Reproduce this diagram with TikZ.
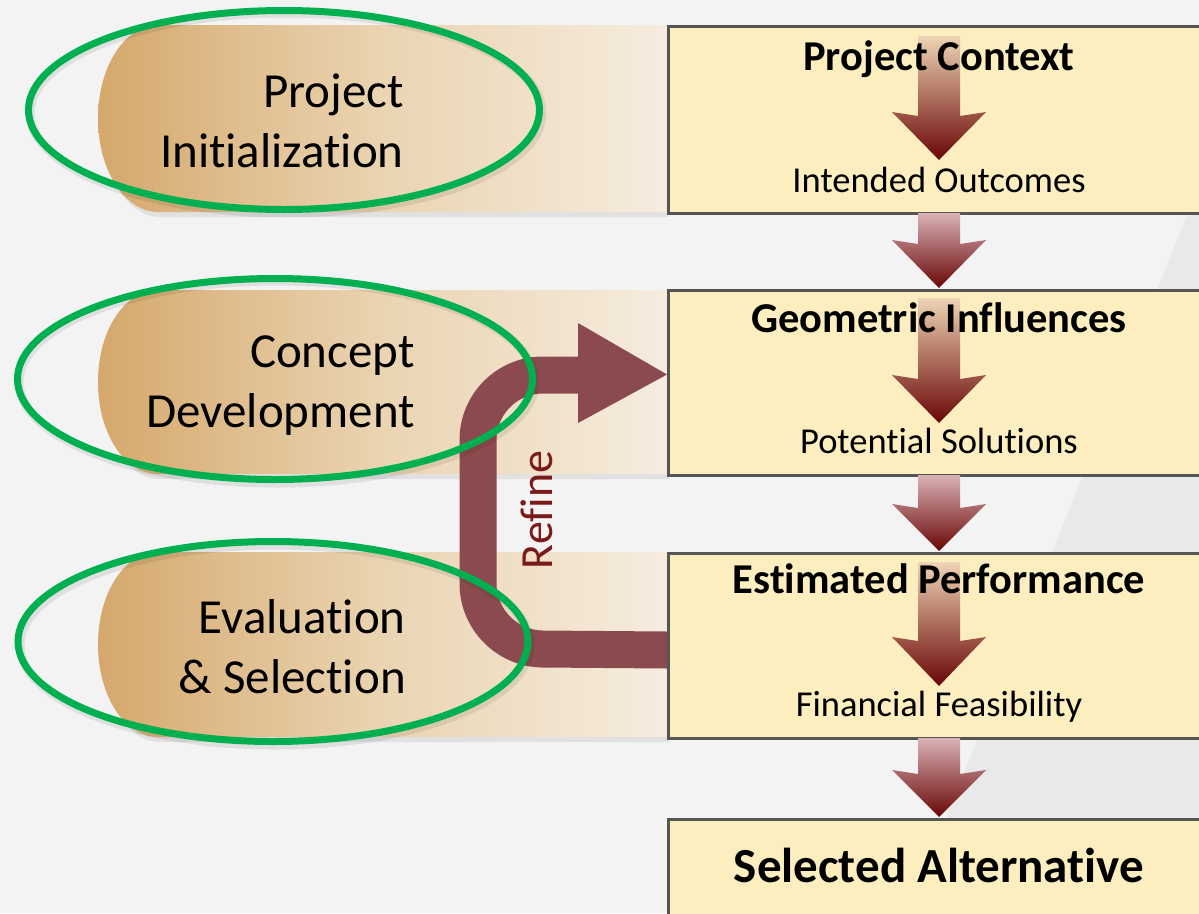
\documentclass[tikz,border=0pt]{standalone}
\usepackage{fontspec}
\setmainfont{Carlito}[Ligatures=NoCommon]
\usetikzlibrary{calc,shapes.geometric}
\definecolor{bgcol}{RGB}{243,243,243}
\definecolor{bgdark}{RGB}{233,233,233}
\definecolor{boxfill}{RGB}{252,238,190}
\definecolor{boxline}{RGB}{85,85,85}
\definecolor{bandleft}{RGB}{213,168,108}
\definecolor{bandmid}{RGB}{234,212,178}
\definecolor{bandright}{RGB}{246,236,222}
\definecolor{ringgreen}{RGB}{0,176,80}
\definecolor{refinecol}{RGB}{139,75,78}
\definecolor{refinetxt}{RGB}{122,26,26}
\definecolor{arrtopin}{RGB}{238,212,180}
\definecolor{arrtopout}{RGB}{218,178,182}
\definecolor{arrbot}{RGB}{105,6,6}
\newcommand\myfatarrow[5]{%
  \shade[top color=#5, bottom color=arrbot]
    (#1-21,#2) -- (#1+21,#2) -- (#1+21,#3+4) -- (#1+47,#3) -- (#1,#4)
    -- (#1-47,#3) -- (#1-21,#3+4) -- cycle;}
\newcommand\myband[2]{%
  \fill[black,opacity=0.07] (160,#1+3) -- (669,#1+3) -- (669,#2+5) -- (160,#2+5)
    .. controls (127,#2+5) and (101,{(#1+#2)/2+55}) .. (101,{(#1+#2)/2+4})
    .. controls (101,{(#1+#2)/2-48}) and (127,#1+3) .. (160,#1+3) -- cycle;
  \shade[left color=bandleft, right color=bandright, middle color=bandmid]
    (158,#1) -- (667,#1) -- (667,#2) -- (158,#2)
    .. controls (125,#2) and (98,{(#1+#2)/2+52}) .. (98,{(#1+#2)/2})
    .. controls (98,{(#1+#2)/2-52}) and (125,#1) .. (158,#1) -- cycle;}
\tikzset{
  box/.style={draw=boxline, line width=3pt, fill=boxfill, minimum width=560,
    minimum height=#1, inner sep=0pt, anchor=north west},
  phase/.style={align=right, anchor=east, inner sep=0pt, text height=32pt,
    text depth=10pt, font=\fontsize{49}{60}\selectfont},
  title/.style={anchor=base, inner sep=0pt, font=\fontsize{42.5}{48}\bfseries\selectfont},
  sub/.style={anchor=base, inner sep=0pt, font=\fontsize{36.5}{42}\selectfont},
  ring/.style={ellipse, draw=ringgreen, line width=7pt, inner sep=0pt},
  ringshadow/.style={draw=black, opacity=0.08, line width=9pt},
  refinearrow/.style={draw=refinecol, line width=37pt, rounded corners=65pt},
}
\begin{document}
\begin{tikzpicture}[x=1pt,y=-1pt]
\useasboundingbox (0,0) rectangle (1199,913);
\clip (0,0) rectangle (1199,913);
% background
\fill[bgcol] (0,0) rectangle (1199,913);
\fill[bgdark] (1199,185) -- (908,913) -- (1199,913) -- cycle;
% bands
\myband{25}{212}
\myband{290}{474}
\myband{552}{737}
% boxes
\node[box=187] (b1) at (667,25) {};
\node[box=185] (b2) at (667,289) {};
\node[box=185] (b3) at (667,552) {};
\node[box=120] (b4) at (667,818) {};
% inner arrows
\myfatarrow{939}{36}{112}{160}{arrtopin}
\myfatarrow{939}{298}{375}{423}{arrtopin}
\myfatarrow{939}{562}{637}{686}{arrtopin}
% arrows between boxes
\myfatarrow{939}{213}{240}{288}{arrtopout}
\myfatarrow{939}{475}{504}{551}{arrtopout}
\myfatarrow{939}{738}{770}{817}{arrtopout}
% box texts
\node[title] (t1) at (939,70) {Project Context};
\node[sub] (s1) at (939,192) {Intended Outcomes};
\node[title] (t2) at (939,332) {Geometric Influences};
\node[sub] (s2) at (939,453) {Potential Solutions};
\node[title] (t3) at (939,593) {Estimated Performance};
\node[sub] (s3) at (939,716) {Financial Feasibility};
\node[title, font=\fontsize{49}{56}\bfseries\selectfont] (t4) at (939,882) {Selected Alternative};
% refine loop
\coordinate (rs) at ($(b3.west)+(0,4)$);
\coordinate (rtip) at ($(b2.west)+(0,-8.5)$);
\draw[refinearrow] (rs) -- (478,648.5) -- (478,375) -- (580,375);
\fill[refinecol] (578,323) -- (rtip) -- (578,423) -- cycle;
\node[rotate=90, text=refinetxt, inner sep=0pt, font=\fontsize{46}{50}\selectfont] (rf) at (537,510) {Refine};
% phase labels
\node[phase] (p1) at (404,156) {Project\\Initialization};
\node[phase] (p2) at (415,416) {Concept\\Development};
\node[phase] (p3) at (406,682) {Evaluation\\\&~Selection};
% green rings
\draw[ringshadow] (286,113) ellipse [x radius=256, y radius=100];
\draw[ringshadow] (277,382) ellipse [x radius=258, y radius=101];
\draw[ringshadow] (275,645) ellipse [x radius=255, y radius=100];
\node[ring, minimum width=511, minimum height=199] (e1) at (284,110) {};
\node[ring, minimum width=515, minimum height=201] (e2) at (275,379) {};
\node[ring, minimum width=510, minimum height=200] (e3) at (273,641.5) {};
\end{tikzpicture}
\end{document}
